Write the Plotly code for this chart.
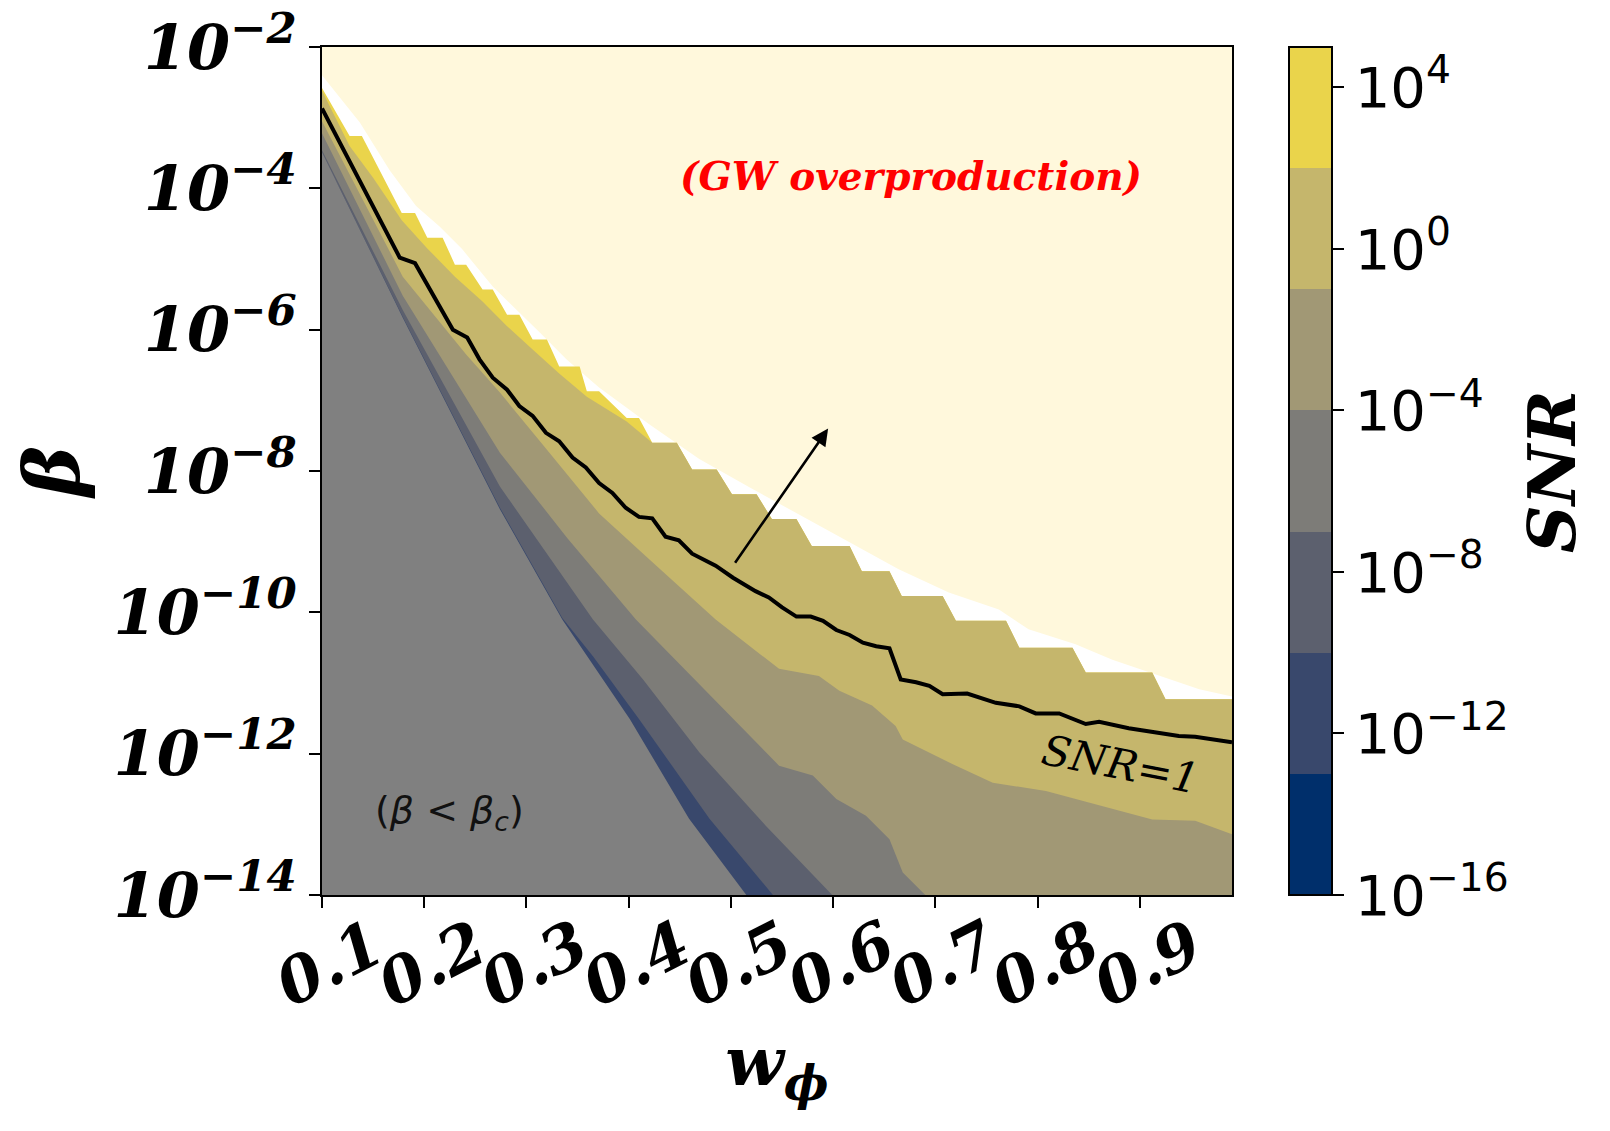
import numpy as np
import plotly.graph_objects as go

# Edges of the filled SNR bands as log10(beta) against w_phi.
# Top of the computed region (staircase set by the grid)
W_TOP = [0.100, 0.127, 0.139, 0.178, 0.191, 0.203, 0.218, 0.230, 0.241, 0.257,
         0.267, 0.281, 0.293, 0.306, 0.320, 0.332, 0.352, 0.359, 0.371, 0.398,
         0.410, 0.423, 0.447, 0.462, 0.486, 0.501, 0.525, 0.540, 0.564, 0.579,
         0.616, 0.628, 0.655, 0.667, 0.707, 0.720, 0.769, 0.782, 0.834, 0.847,
         0.912, 0.925, 0.990]
LOG_TOP = [-2.58, -3.26, -3.26, -4.35, -4.35, -4.70, -4.70, -5.08, -5.08, -5.43,
           -5.43, -5.79, -5.79, -6.14, -6.14, -6.52, -6.52, -6.87, -6.87, -7.25,
           -7.25, -7.60, -7.60, -7.98, -7.98, -8.33, -8.33, -8.68, -8.68, -9.06,
           -9.06, -9.42, -9.42, -9.77, -9.77, -10.12, -10.12, -10.50, -10.50, -10.85,
           -10.85, -11.23, -11.23]

# SNR = 10^2 edge (yellow above, khaki below), only where it shows
W_P2 = [0.100, 0.127, 0.150, 0.178, 0.203, 0.230, 0.257, 0.281, 0.306, 0.332, 0.359, 0.398]
LOG_P2 = [-2.62, -3.40, -3.85, -4.45, -4.85, -5.25, -5.60, -5.95, -6.28, -6.62, -6.95, -7.30]

# SNR = 10^-1 edge
W_M1 = [0.100, 0.179, 0.241, 0.274, 0.320, 0.371, 0.420, 0.485, 0.547, 0.586, 0.606,
        0.638, 0.661, 0.668, 0.717, 0.756, 0.808, 0.873, 0.912, 0.954, 0.990]
LOG_M1 = [-3.05, -5.25, -6.35, -6.89, -7.70, -8.60, -9.25, -10.10, -10.80, -10.90, -11.11,
          -11.32, -11.61, -11.80, -12.15, -12.41, -12.53, -12.78, -12.93, -12.95, -13.14]

# SNR = 10^-4 edge
W_M4 = [0.100, 0.179, 0.274, 0.340, 0.407, 0.547, 0.580, 0.603, 0.632, 0.655, 0.668, 0.690]
LOG_M4 = [-3.22, -5.52, -7.74, -8.95, -10.10, -12.17, -12.31, -12.64, -12.88, -13.21, -13.68, -14.00]

# SNR = 10^-7 edge
W_M7 = [0.100, 0.179, 0.274, 0.365, 0.414, 0.469, 0.534, 0.599]
LOG_M7 = [-3.46, -5.72, -8.22, -10.10, -10.95, -11.98, -13.02, -14.00]

# SNR = 10^-10 edge
W_M10 = [0.100, 0.179, 0.274, 0.335, 0.365, 0.410, 0.479, 0.541]
LOG_M10 = [-3.50, -5.82, -8.52, -10.08, -10.62, -11.51, -12.92, -14.00]

# beta < beta_c region (grey)
W_CRIT = [0.100, 0.179, 0.274, 0.335, 0.401, 0.459, 0.515]
LOG_CRIT = [-3.49, -5.83, -8.54, -10.10, -11.51, -12.92, -14.00]

# lower edge of the GW overproduction region
W_OVER = [0.100, 0.137, 0.166, 0.192, 0.215, 0.237, 0.267, 0.290, 0.313, 0.339, 0.371,
          0.420, 0.469, 0.518, 0.566, 0.615, 0.664, 0.713, 0.762, 0.791, 0.837, 0.873,
          0.919, 0.958, 0.990]
LOG_OVER = [-2.40, -3.07, -3.74, -4.25, -4.54, -4.86, -5.39, -5.71, -6.04, -6.42, -6.82,
            -7.34, -7.83, -8.23, -8.61, -9.01, -9.39, -9.72, -9.96, -10.24, -10.45, -10.67,
            -10.90, -11.09, -11.19]

# SNR = 1 contour
W_SNR1 = [0.100, 0.176, 0.191, 0.228, 0.242, 0.254, 0.267, 0.281, 0.293, 0.306, 0.319,
          0.332, 0.345, 0.358, 0.371, 0.384, 0.397, 0.410, 0.423, 0.436, 0.449, 0.462,
          0.485, 0.502, 0.524, 0.537, 0.550, 0.564, 0.578, 0.590, 0.603, 0.616, 0.629,
          0.642, 0.655, 0.666, 0.681, 0.694, 0.707, 0.731, 0.759, 0.782, 0.798, 0.821,
          0.847, 0.860, 0.889, 0.905, 0.938, 0.954, 0.990]
LOG_SNR1 = [-2.87, -4.98, -5.06, -6.00, -6.11, -6.42, -6.68, -6.85, -7.08, -7.22, -7.46,
            -7.58, -7.81, -7.95, -8.17, -8.31, -8.52, -8.65, -8.67, -8.93, -8.98, -9.17,
            -9.34, -9.51, -9.70, -9.79, -9.93, -10.06, -10.06, -10.12, -10.25, -10.32, -10.43,
            -10.48, -10.51, -10.95, -10.99, -11.04, -11.16, -11.15, -11.28, -11.33, -11.43, -11.43,
            -11.58, -11.55, -11.64, -11.68, -11.75, -11.76, -11.84]

LEVELS = [-16, -13, -10, -7, -4, -1, 2, 5]
BAND_COLORS = ["#002f6b", "#39486c", "#5c606e", "#7d7c78", "#a19875", "#c5b66c", "#ead44b"]
CB_TICKS = [-16, -12, -8, -4, 0, 4]
Y_EXPONENTS = [-2, -4, -6, -8, -10, -12, -14]
X_TICKS = [0.1, 0.2, 0.3, 0.4, 0.5, 0.6, 0.7, 0.8, 0.9]

CREAM = "#fff8dc"
CRIT_GREY = "#808080"
SERIF = "DejaVu Serif"
SANS = "DejaVu Sans"


def area(ws, logs, color, edge):
    """Filled polygon between a band edge and a flat line off the plot."""
    x = list(ws) + [ws[-1], ws[0]]
    y = list(10.0 ** np.array(logs)) + [10.0 ** edge, 10.0 ** edge]
    return go.Scatter(
        x=x, y=y, mode="lines", fill="toself", fillcolor=color,
        line=dict(width=0, color=color), hoverinfo="skip", showlegend=False,
    )


def sci(e):
    return f"10<sup>{'−' if e < 0 else ''}{abs(e)}</sup>"


# khaki band is capped by the 10^2 edge, then by the top of the data
w_khaki = W_P2 + [w for w in W_TOP if w > W_P2[-1] + 0.02]
log_khaki = LOG_P2 + [v for w, v in zip(W_TOP, LOG_TOP) if w > W_P2[-1] + 0.02]

fig = go.Figure()
fig.add_trace(area(W_OVER, LOG_OVER, CREAM, -1.0))
fig.add_trace(area(W_TOP, LOG_TOP, BAND_COLORS[6], -15.0))
fig.add_trace(area(w_khaki, log_khaki, BAND_COLORS[5], -15.0))
fig.add_trace(area(W_M1, LOG_M1, BAND_COLORS[4], -15.0))
fig.add_trace(area(W_M4, LOG_M4, BAND_COLORS[3], -15.0))
fig.add_trace(area(W_M7, LOG_M7, BAND_COLORS[2], -15.0))
fig.add_trace(area(W_M10, LOG_M10, BAND_COLORS[1], -15.0))
fig.add_trace(area(W_CRIT, LOG_CRIT, CRIT_GREY, -15.0))

fig.add_trace(
    go.Scatter(
        x=W_SNR1, y=10.0 ** np.array(LOG_SNR1), mode="lines",
        line=dict(color="black", width=4), hoverinfo="skip", showlegend=False,
    )
)

# discrete colour bar
n = len(BAND_COLORS)
cscale = []
for i, c in enumerate(BAND_COLORS):
    cscale += [[i / n, c], [(i + 1) / n, c]]
fig.add_trace(
    go.Scatter(
        x=[None], y=[None], mode="markers", showlegend=False, hoverinfo="skip",
        marker=dict(
            color=[LEVELS[0]], colorscale=cscale, cmin=LEVELS[0], cmax=LEVELS[-1],
            showscale=True,
            colorbar=dict(
                x=1.0626, xanchor="left", xpad=0, ypad=0,
                y=0.5, yanchor="middle", len=1, lenmode="fraction",
                thickness=43, thicknessmode="pixels",
                outlinewidth=2, outlinecolor="black",
                ticks="outside", ticklen=11, tickwidth=2, tickcolor="black",
                tickvals=CB_TICKS, ticktext=[sci(e) for e in CB_TICKS],
                tickfont=dict(family=SANS, size=56, color="black"),
            ),
        ),
    )
)

fig.add_annotation(
    x=1.3516, y=0.5, xref="paper", yref="paper", xanchor="center", yanchor="middle",
    showarrow=False, textangle=-90, text="SNR",
    font=dict(family=SERIF, size=66, color="black", weight="bold", style="italic"),
)
fig.add_annotation(
    x=0.676, y=-3.83, xref="x", yref="y", showarrow=False,
    text="(GW overproduction)",
    font=dict(family=SERIF, size=39, color="red", weight="bold", style="italic"),
)
fig.add_annotation(
    x=0.881, y=-12.15, xref="x", yref="y", showarrow=False, textangle=11,
    text="SNR=1",
    font=dict(family=SERIF, size=42, color="black", style="italic"),
)
fig.add_annotation(
    x=0.2248, y=-12.83, xref="x", yref="y", showarrow=False,
    text="(<i>β</i> < <i>β</i><sub><i>c</i></sub>)",
    font=dict(family=SANS, size=38, color="#111111"),
)
fig.add_annotation(
    x=0.595, y=-7.40, ax=0.503, ay=-9.32, xref="x", yref="y",
    axref="x", ayref="y", text="", showarrow=True,
    arrowhead=2, arrowsize=1.3, arrowwidth=2.6, arrowcolor="black",
)

fig.update_layout(
    width=1602,
    height=1123,
    margin=dict(l=314, r=378, t=39, b=236),
    paper_bgcolor="white",
    plot_bgcolor="white",
    xaxis=dict(
        range=[0.1, 0.99], showgrid=False, zeroline=False, automargin=False,
        showline=True, mirror=True, linecolor="black", linewidth=2,
        ticks="outside", ticklen=11, tickwidth=2, tickcolor="black",
        tickvals=X_TICKS, ticktext=[f"{v:.1f}" for v in X_TICKS],
        tickangle=-27, ticklabelshift=52, ticklabelstandoff=-22,
        ticklabeloverflow="allow",
        tickfont=dict(family=SERIF, size=63, color="black", weight="bold", style="italic"),
        title=dict(
            text="w<sub>ϕ</sub>", standoff=2,
            font=dict(family=SERIF, size=68, color="black", weight="bold", style="italic"),
        ),
    ),
    yaxis=dict(
        type="log", range=[-14, -2], showgrid=False, zeroline=False, automargin=False,
        showline=True, mirror=True, linecolor="black", linewidth=2,
        ticks="outside", ticklen=11, tickwidth=2, tickcolor="black",
        tickvals=[10.0 ** e for e in Y_EXPONENTS],
        ticktext=[sci(e) for e in Y_EXPONENTS],
        ticklabeloverflow="allow",
        tickfont=dict(family=SERIF, size=62, color="black", weight="bold", style="italic"),
        title=dict(
            text="β", standoff=20,
            font=dict(family=SERIF, size=76, color="black", weight="bold", style="italic"),
        ),
    ),
)

fig.write_html("out.html")
